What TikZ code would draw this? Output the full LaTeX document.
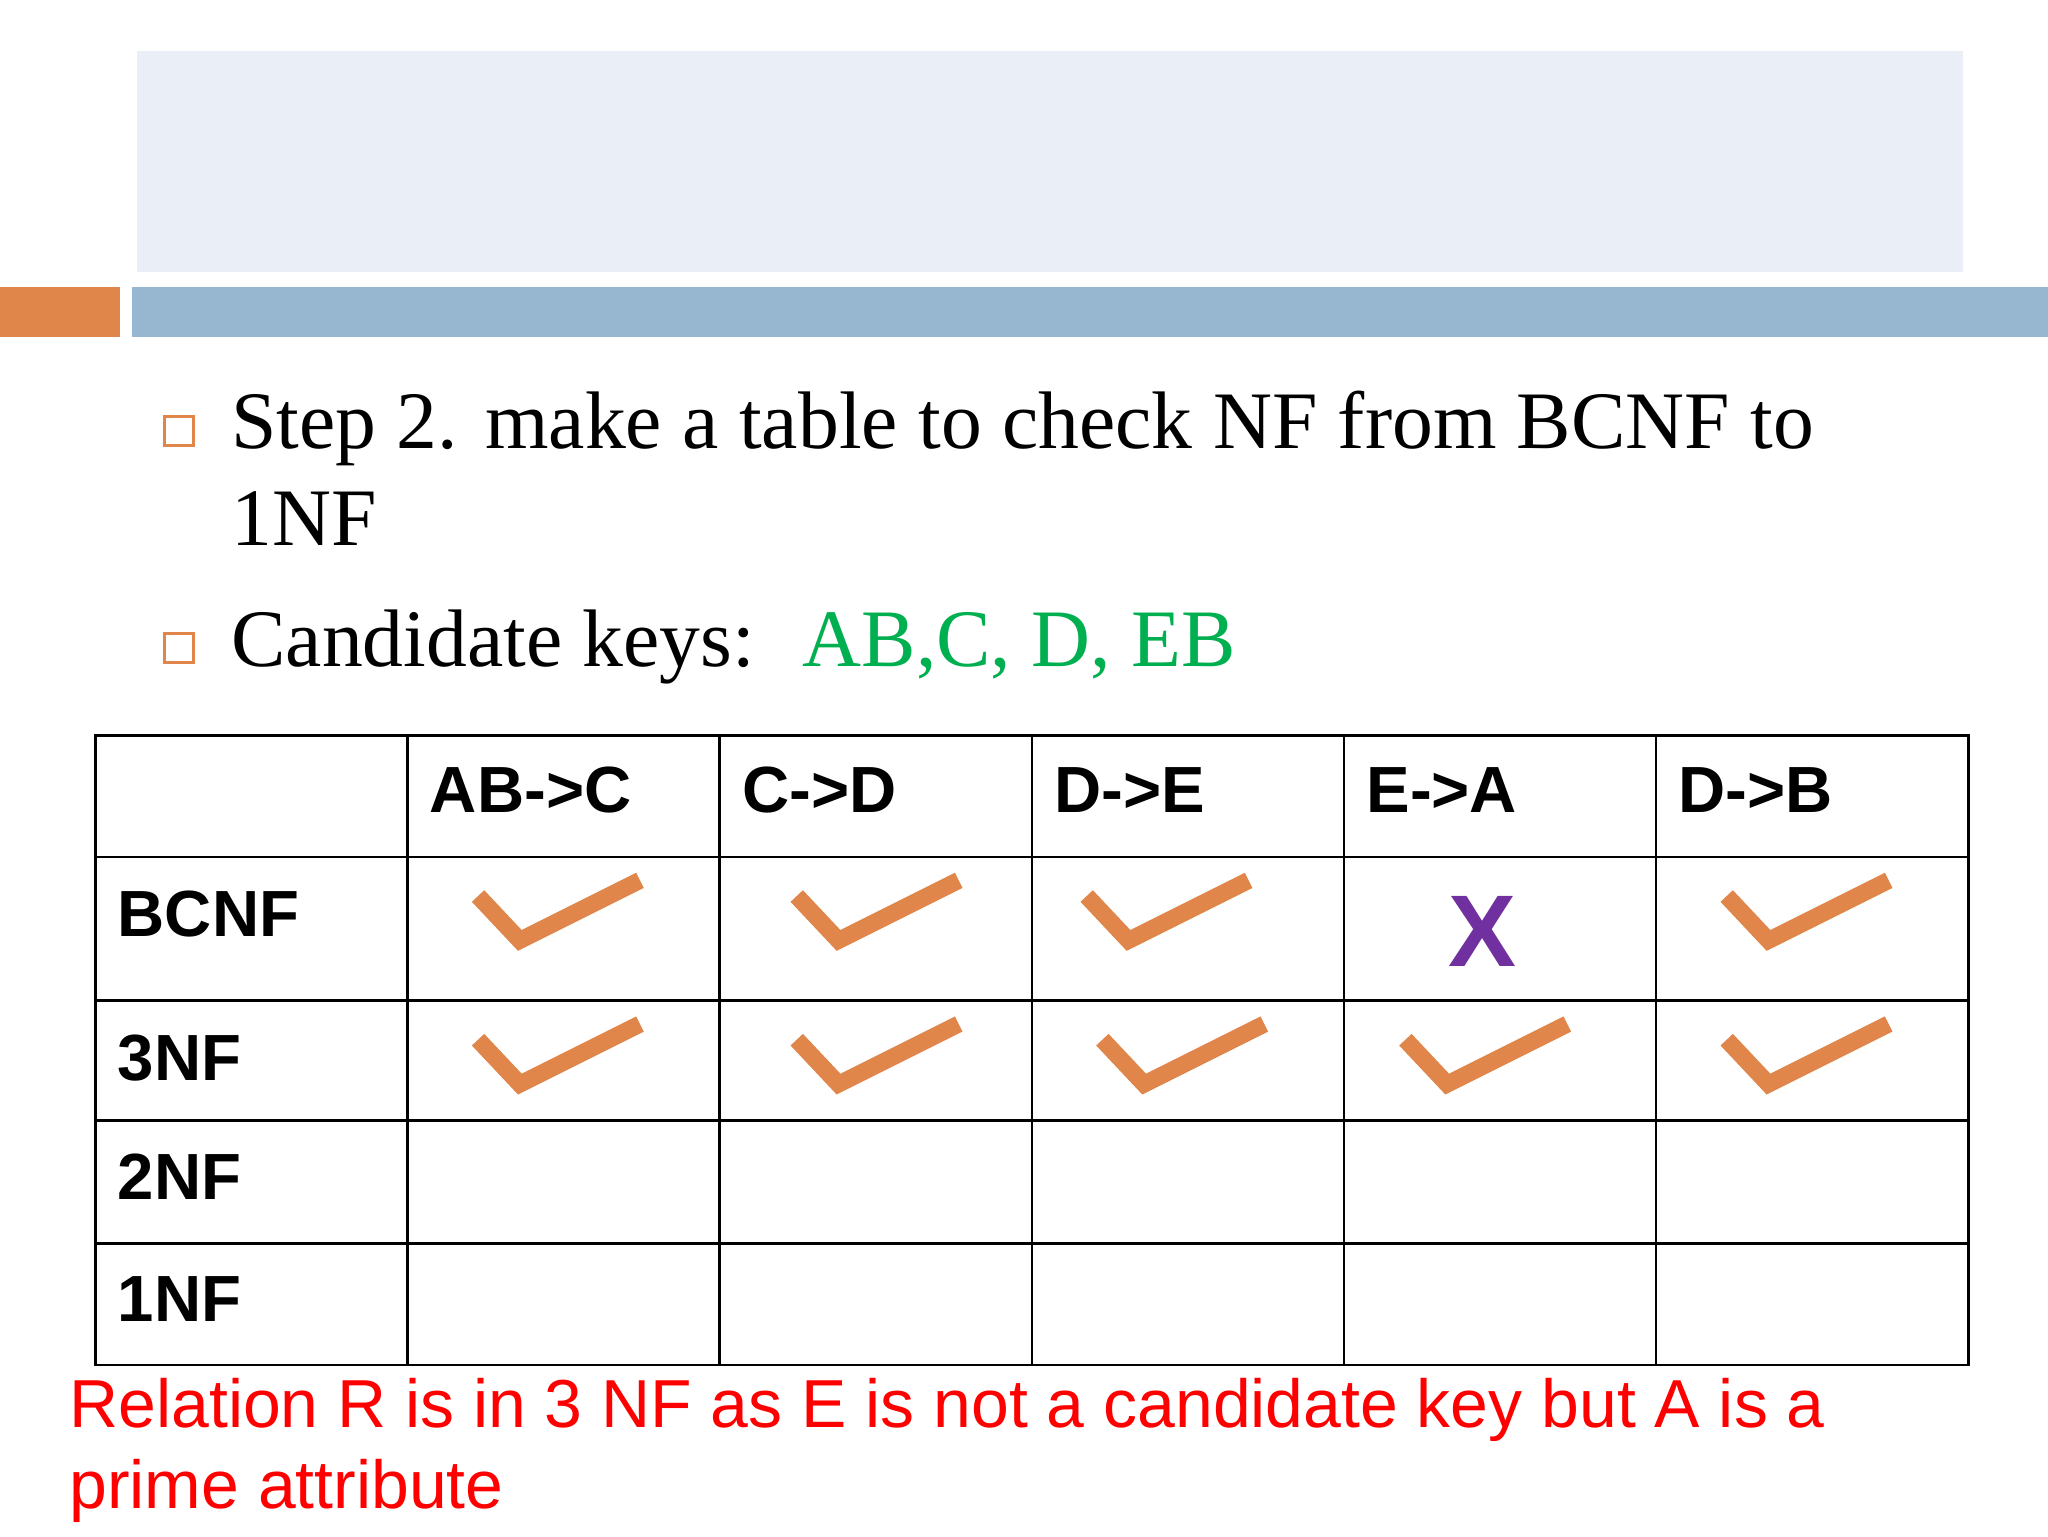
\documentclass[tikz,border=0pt]{standalone}
\usepackage{fontspec}
\setmainfont{Liberation Serif}
\newfontfamily\arial{Liberation Sans}
\definecolor{topbox}{HTML}{EAEFF7}
\definecolor{orangebar}{HTML}{E0864A}
\definecolor{bluebar}{HTML}{97B6D0}
\definecolor{keygreen}{HTML}{00B050}
\definecolor{xpurple}{HTML}{7030A0}
\begin{document}
\begin{tikzpicture}[x=1pt,y=-1pt,
  bul/.style={draw=orangebar,line width=2.5pt,minimum size=22pt,inner sep=0pt},
  btxt/.style={anchor=base west,inner sep=0pt,font=\fontsize{62.5}{74}\selectfont},
  hdr/.style={anchor=base west,inner sep=0pt,font=\arial\bfseries\fontsize{50}{58}\selectfont},
  note/.style={anchor=base west,inner sep=0pt,text=red,font=\arial\fontsize{52}{60}\selectfont},
  tick/.style={draw=orangebar,line width=13pt}]
\useasboundingbox[fill=white] (0,0) rectangle (1568,1176);
\fill[topbox] (105,39) rectangle (1503,208);
\fill[orangebar] (0,220) rectangle (92,258);
\fill[bluebar] (101,220) rectangle (1568,258);
\node[bul] (b1) at (137,330) {};
\node[bul] (b2) at (137,496) {};
\node[btxt] (t1) at (177,343) {Step 2. make a table to check NF from BCNF to};
\node[btxt] (t2) at (177,418) {1NF};
\node[btxt] (t3) at (177,510) {Candidate keys: \ \textcolor{keygreen}{AB,C, D, EB}};
% table grid
\draw[line width=2pt] (73,563) rectangle (1507,1045);
\foreach \x in {312,551,790,1029,1268} \draw[line width=2pt] (\x,563) -- (\x,1045);
\foreach \y in {656,766,858,952} \draw[line width=2pt] (73,\y) -- (1507,\y);
\node[hdr] (h1) at (329,622) {AB->C};
\node[hdr] (h2) at (568,622) {C->D};
\node[hdr] (h3) at (807,622) {D->E};
\node[hdr] (h4) at (1046,622) {E->A};
\node[hdr] (h5) at (1285,622) {D->B};
\node[hdr] (r1) at (90,717) {BCNF};
\node[hdr] (r2) at (90,827) {3NF};
\node[hdr] (r3) at (90,918) {2NF};
\node[hdr] (r4) at (90,1012) {1NF};
\foreach \x in {366,610,832,1322} \draw[tick] (\x,686) -- (\x+32,720) -- (\x+124,674);
\foreach \x in {366,610,844,1076,1322} \draw[tick] (\x,796) -- (\x+32,830) -- (\x+124,784);
\node[inner sep=0pt,text=xpurple,font=\arial\bfseries\fontsize{78}{90}\selectfont] (xm) at (1135,713) {X};
\node[note] (n1) at (53,1093) {Relation R is in 3 NF as E is not a candidate key but A is a};
\node[note] (n2) at (53,1155) {prime attribute};
\end{tikzpicture}
\end{document}
